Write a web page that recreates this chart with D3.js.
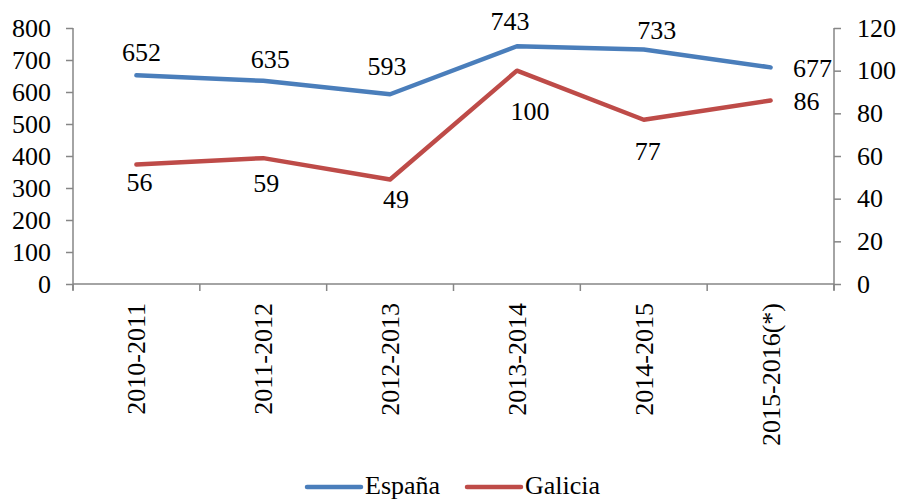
<!DOCTYPE html>
<html>
<head>
<meta charset="utf-8">
<script src="https://cdn.jsdelivr.net/npm/d3@7"></script>
<style>
  body { margin: 0; background: #fff; }
</style>
</head>
<body>
<svg id="chart" width="899" height="499"></svg>
<script>
const categories = ["2010-2011", "2011-2012", "2012-2013", "2013-2014", "2014-2015", "2015-2016(*)"];
const espana = [652, 635, 593, 743, 733, 677];
const galicia = [56, 59, 49, 100, 77, 86];
const leftTicks = [0, 100, 200, 300, 400, 500, 600, 700, 800];
const rightTicks = [0, 20, 40, 60, 80, 100, 120];

// label offsets from the point (dx, dy to text middle)
const espanaLabelPos = [[5, -23], [7, -22], [-3, -28], [-7, -25], [13, -19], [42, 1]];
const galiciaLabelPos = [[3, 18], [3, 25], [6, 20], [13, 40], [4, 31], [36, 1]];

const margin = { top: 28, left: 73, right: 65 };
const width = 899, height = 499;
const plotBottom = 284;
const svg = d3.select("#chart");

const x = d3.scaleBand().domain(categories).range([margin.left, width - margin.right]);
const yLeft = d3.scaleLinear().domain([0, 800]).range([plotBottom, margin.top]);
const yRight = d3.scaleLinear().domain([0, 120]).range([plotBottom, margin.top]);

const axisColor = "#868686";
const fontSize = 26;
const serif = "Liberation Serif";

// left axis
const gl = svg.append("g").attr("transform", `translate(${margin.left},0)`)
  .call(d3.axisLeft(yLeft).tickValues(leftTicks).tickSize(7).tickPadding(15).tickFormat(d3.format("d")));
gl.attr("font-family", serif).attr("font-size", fontSize);
gl.select(".domain").attr("stroke", axisColor).attr("stroke-width", 1.5).attr("d", `M0,${margin.top}V${plotBottom + 6}`);
gl.selectAll(".tick line").attr("stroke", axisColor).attr("stroke-width", 1.5);
gl.selectAll(".tick text").attr("fill", "#000");

// right axis
const gr = svg.append("g").attr("transform", `translate(${width - margin.right},0)`)
  .call(d3.axisRight(yRight).tickValues(rightTicks).tickSize(7).tickPadding(16).tickFormat(d3.format("d")));
gr.attr("font-family", serif).attr("font-size", fontSize);
gr.select(".domain").attr("stroke", axisColor).attr("stroke-width", 1.5).attr("d", `M0,${margin.top}V${plotBottom + 6}`);
gr.selectAll(".tick line").attr("stroke", axisColor).attr("stroke-width", 1.5);
gr.selectAll(".tick text").attr("fill", "#000");

// bottom axis
const gb = svg.append("g").attr("transform", `translate(0,${plotBottom})`);
gb.append("line").attr("x1", margin.left).attr("x2", width - margin.right)
  .attr("stroke", axisColor).attr("stroke-width", 1.5);
const bounds = categories.map(c => x(c)).concat([x(categories[categories.length - 1]) + x.bandwidth()]);
gb.selectAll("line.tk").data(bounds).enter().append("line").attr("class", "tk")
  .attr("x1", d => d).attr("x2", d => d).attr("y1", 0).attr("y2", 7)
  .attr("stroke", axisColor).attr("stroke-width", 1.5);
gb.selectAll("text.cat").data(categories).enter().append("text").attr("class", "cat")
  .attr("transform", d => `translate(${x(d) + x.bandwidth() / 2 + 9},19) rotate(-90)`)
  .attr("text-anchor", "end")
  .attr("font-family", serif).attr("font-size", fontSize).attr("fill", "#000")
  .text(d => d);

// lines
const series = [
  { name: "España", values: espana, y: yLeft, color: "#4a7ebb", pos: espanaLabelPos },
  { name: "Galicia", values: galicia, y: yRight, color: "#be4b48", pos: galiciaLabelPos }
];

series.forEach(s => {
  const line = d3.line().x((d, i) => x(categories[i]) + x.bandwidth() / 2).y(d => s.y(d));
  svg.append("path").datum(s.values)
    .attr("d", line)
    .attr("fill", "none")
    .attr("stroke", s.color)
    .attr("stroke-width", 4.5)
    .attr("stroke-linecap", "round")
    .attr("stroke-linejoin", "round");

  svg.selectAll(null).data(s.values).enter().append("text")
    .attr("x", (d, i) => x(categories[i]) + x.bandwidth() / 2 + s.pos[i][0])
    .attr("y", (d, i) => s.y(d) + s.pos[i][1])
    .attr("dy", "0.34em")
    .attr("text-anchor", "middle")
    .attr("font-family", serif).attr("font-size", fontSize).attr("fill", "#000")
    .text(d => d);
});

// legend
const legend = svg.append("g").attr("transform", "translate(307,485)");
series.forEach((s, i) => {
  const lg = legend.append("g").attr("transform", `translate(${i * 160},0)`);
  lg.append("line").attr("x1", 0).attr("x2", 54).attr("y1", 2).attr("y2", 2)
    .attr("stroke", s.color).attr("stroke-width", 4.5).attr("stroke-linecap", "round");
  lg.append("text").attr("x", 58).attr("dy", "0.34em")
    .attr("font-family", serif).attr("font-size", fontSize).attr("fill", "#000")
    .text(s.name);
});
</script>
</body>
</html>
